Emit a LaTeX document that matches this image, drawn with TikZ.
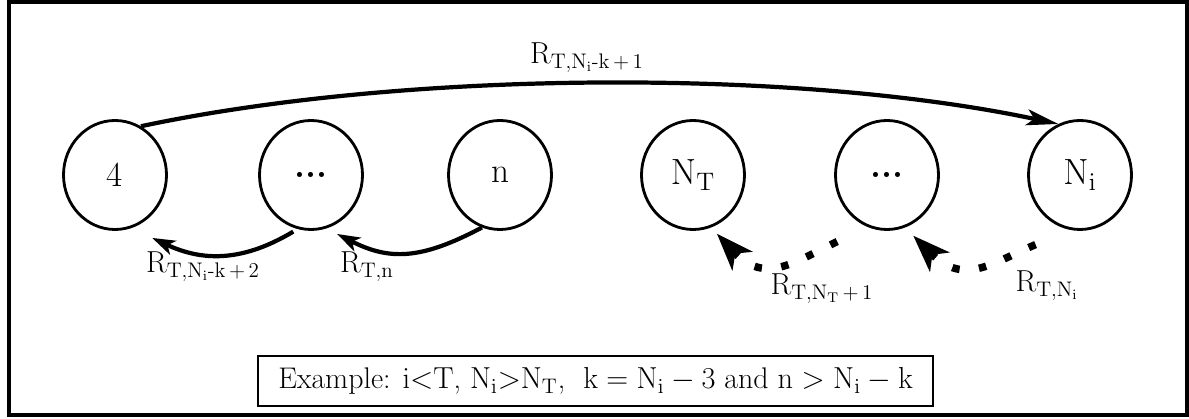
\documentclass[tikz,border=0pt]{standalone}
\usepackage{amsmath}
\usetikzlibrary{shapes.geometric,arrows.meta}
\tikzset{
  state/.style={ellipse, draw, line width=1.6pt, minimum width=2.06cm, minimum height=2.18cm, inner sep=0pt, font=\fontsize{20}{23}\selectfont},
  rlabel/.style={anchor=base, font=\fontsize{17}{20}\selectfont},
  solidarr/.style={line width=2.4pt, -{Stealth[length=4.6mm,width=3mm,inset=1.2mm]}},
  dotarr/.style={line width=1.5mm, dash pattern=on 1.5mm off 3.9mm, -{Stealth[length=7.4mm,width=5.4mm,inset=2mm]}}
}

\begin{document}
\begin{tikzpicture}
\useasboundingbox (0,0) rectangle (23.78,8.38);
\draw[line width=2.3pt] (0.18,0.08) rectangle (23.74,8.34);

% the six states
\node[state] (c4) at (2.30,4.88) {4};
\node[state] (d1) at (6.22,4.88) {\textbf{...}};
\node[state] (n) at (10.00,4.88) {n};
\node[state] (nt) at (13.86,4.88) {$\mathrm{N_T}$};
\node[state] (d2) at (17.74,4.88) {\textbf{...}};
\node[state] (ni) at (21.60,4.88) {$\mathrm{N_i}$};

% long jump over the top
\draw[line width=2.4pt, -{Stealth[length=6.4mm,width=3.2mm,inset=1.5mm]}] (c4.62) to[out=12,in=168,looseness=0.75] (ni.113);
\node[rlabel] (r1) at (11.74,7.10) {$\mathrm{R_{T,N_i\text{-}k\,{+}\,1}}$};

% backward transitions
\draw[solidarr, shorten <=0.1cm, shorten >=0.46cm] (d1.-104) to[out=211,in=-25,looseness=1.1] (c4.-73);
\draw[solidarr, shorten >=0.24cm] (n.-109) to[out=208,in=-27,looseness=1.15] (d1.-74);
\draw[dotarr, dash phase=4.5mm, shorten <=0.59cm, shorten >=0.17cm] (d2.-110) to[out=205,in=-47,looseness=1.3] (nt.-71);
\draw[dotarr, dash phase=4.5mm, shorten <=0.68cm, shorten >=0.23cm] (ni.-99) to[out=202,in=-45,looseness=1.3] (d2.-71);

\node[rlabel] (r2) at (4.06,2.92) {$\mathrm{R_{T,N_i\text{-}k\,{+}\,2}}$};
\node[rlabel] (r3) at (7.34,2.92) {$\mathrm{R_{T,n}}$};
\node[rlabel] (r4) at (16.44,2.48) {$\mathrm{R_{T,N_T\,{+}\,1}}$};
\node[rlabel] (r5) at (20.94,2.54) {$\mathrm{R_{T,N_i}}$};

% condition box
\node[draw, line width=1.1pt, minimum width=13.5cm, minimum height=1cm, font=\fontsize{17}{20}\selectfont] (ex) at (11.91,0.76)
  {Example: $\mathrm{i{<}T}$, $\mathrm{N_i{>}N_T}$,\ \ $\mathrm{k=N_i-3}$ and $\mathrm{n>N_i-k}$};
\end{tikzpicture}
\end{document}
